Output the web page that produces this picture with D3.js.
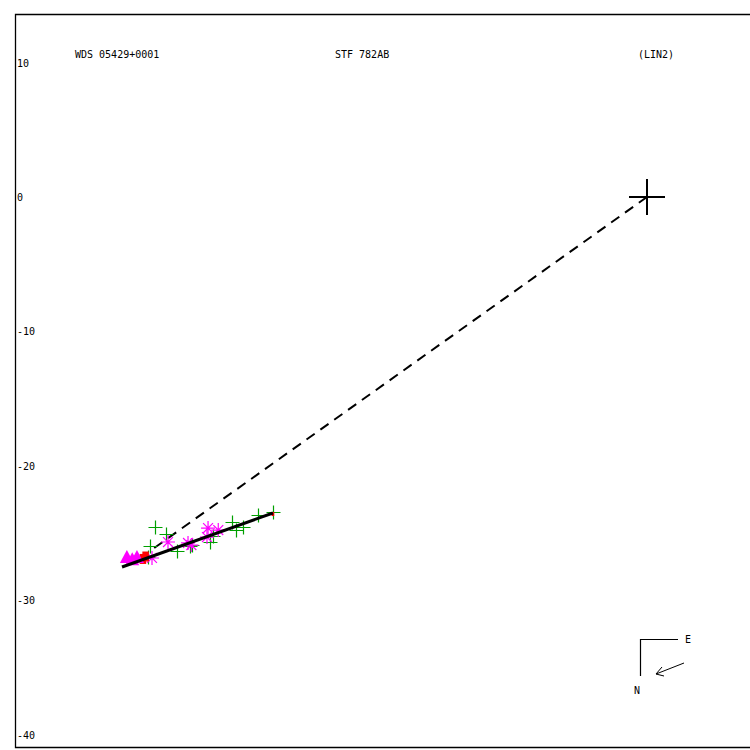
<!DOCTYPE html>
<html><head><meta charset="utf-8">
<script src="https://cdn.jsdelivr.net/npm/d3@7"></script>
<style>body{margin:0;background:#fff}svg{display:block}</style>
</head><body>
<script>
const yTicks = [10, 0, -10, -20, -30, -40];
const titles = ["WDS 05429+0001", "STF 782AB", "(LIN2)"];
const greenX = [-36.6, -35.8, -37.0, -35.0, -33.85, -32.5, -30.9, -30.6, -30.06, -28.94, -27.83, -37.13, -34.0, -32.3];
const greenY = [-24.55, -25.07, -25.97, -26.34, -25.9, -25.67, -24.18, -24.78, -24.55, -23.66, -23.44, -26.79, -26.0, -25.2];
const starX = [-35.64, -34.15, -32.66, -31.9, -32.74, -36.83, -33.9];
const starY = [-25.67, -25.74, -24.63, -24.78, -25.3, -26.86, -25.9];
const redX = [-37.5, -37.3, -27.83];
const redY = [-26.93, -26.75, -23.59];
const triX = [-38.7, -37.95, -38.3];
const triY = [-26.93, -26.93, -27.1];
const fitLineX = [-27.83, -39.06];
const fitLineY = [-23.51, -27.53];
const dashX = [0, -36.98];
const dashY = [0, -26.34];

const W = 750, H = 750;
const svg = d3.select("body").append("svg").attr("width", W).attr("height", H);
const k = 13.44;
const y = d3.scaleLinear().domain([0, 10]).range([197, 197 - 10 * k]);
const x = d3.scaleLinear().domain([0, 10]).range([647, 647 + 10 * k]);

// frame
svg.append("path").attr("d", "M750,14.5 H15.5 V747.5 H750").attr("fill", "none").attr("stroke", "#000").attr("stroke-width", 1.3);

const font = "'DejaVu Sans Mono', monospace";
svg.selectAll("text.tick").data(yTicks).join("text")
  .attr("x", 17).attr("y", d => y(d) + 4)
  .attr("font-family", font).attr("font-size", 10).attr("fill", "#000").text(d => d);

svg.selectAll("text.title").data(titles).join("text")
  .attr("x", (d, i) => [75, 335, 638][i]).attr("y", 58)
  .attr("font-family", font).attr("font-size", 10).attr("fill", "#000").text(d => d);

// dashed line
svg.append("line").attr("x1", x(dashX[0])).attr("y1", y(dashY[0])).attr("x2", x(dashX[1])).attr("y2", y(dashY[1]))
  .attr("stroke", "#000").attr("stroke-width", 2).attr("stroke-dasharray", "10,7");

// origin cross
const ox = x(0), oy = y(0);
svg.append("path").attr("d", `M${ox-18},${oy} H${ox+18} M${ox},${oy-18} V${oy+18}`).attr("stroke", "#000").attr("stroke-width", 2);

// green plus
const g = svg.append("g");
g.selectAll("path.g").data(greenX.map((v, i) => [v, greenY[i]])).join("path")
  .attr("d", d => { const px = Math.round(x(d[0])) + 0.5, py = Math.round(y(d[1])) + 0.5; return `M${px-7},${py} H${px+7} M${px},${py-7} V${py+7}`; })
  .attr("stroke", "#00a000").attr("stroke-width", 1.2);

// magenta asterisks
g.selectAll("path.s").data(starX.map((v, i) => [v, starY[i]])).join("path")
  .attr("d", d => { const px = x(d[0]), py = y(d[1]); let s = "";
    for (let a = 0; a < 4; a++) { const t = a * Math.PI / 4; const dx = 7 * Math.cos(t), dy = 7 * Math.sin(t);
      s += `M${px-dx},${py-dy} L${px+dx},${py+dy} `; } return s; })
  .attr("stroke", "#ff00ff").attr("stroke-width", 1.2);

// red points
g.selectAll("path.r").data(redX.map((v, i) => [v, redY[i]])).join("path")
  .attr("d", (d, i) => { const px = x(d[0]), py = y(d[1]); const s = i < 2 ? 5 : 2; return `M${px-s/1.5},${py-s} h${s*1.3} v${s*2} h${-s*1.3}Z`; })
  .attr("fill", "#ff0000");

// magenta triangles
g.selectAll("path.t").data(triX.map((v, i) => [v, triY[i]])).join("path")
  .attr("d", d => { const px = x(d[0]), py = y(d[1]); return `M${px},${py-9} L${px+7},${py+4} L${px-7},${py+4}Z`; })
  .attr("fill", "#ff00ff");

// fit line
svg.append("line").attr("x1", x(fitLineX[0])).attr("y1", y(fitLineY[0])).attr("x2", x(fitLineX[1])).attr("y2", y(fitLineY[1]))
  .attr("stroke", "#000").attr("stroke-width", 3);

// compass
svg.append("path").attr("d", "M678,639.5 H640.5 V676").attr("fill", "none").attr("stroke", "#000").attr("stroke-width", 1.2);
svg.append("text").attr("x", 685).attr("y", 643).attr("font-family", font).attr("font-size", 10).text("E");
svg.append("text").attr("x", 634).attr("y", 694).attr("font-family", font).attr("font-size", 10).text("N");
svg.append("path").attr("d", "M684,663 L656,674 M656,674 L662,667 M656,674 L664,676").attr("fill", "none").attr("stroke", "#000").attr("stroke-width", 1);
</script>
</body></html>
